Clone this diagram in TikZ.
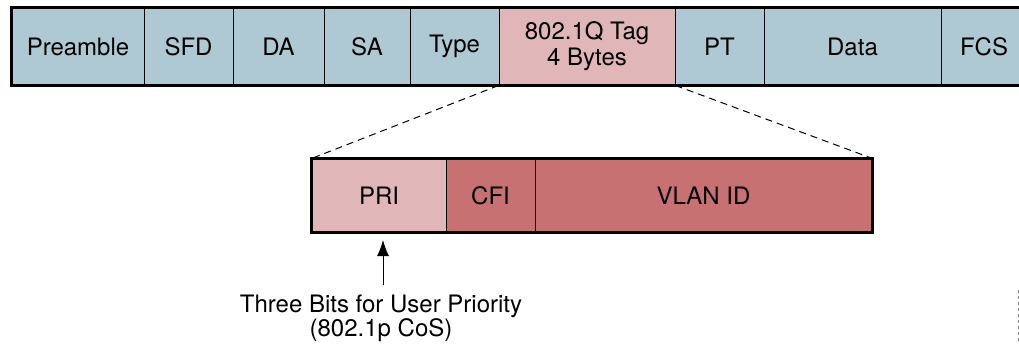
\documentclass[tikz,border=0pt]{standalone}
\usepackage{fontspec}
\setmainfont{TeX Gyre Heros}
\usetikzlibrary{arrows.meta,positioning}

\definecolor{frameblue}{RGB}{174,201,212}
\definecolor{tagpink}{RGB}{224,182,184}
\definecolor{tagrose}{RGB}{200,113,114}

\begin{document}
\begin{tikzpicture}[x=1pt,y=-1pt,
  field/.style={draw,line width=1pt,inner sep=0pt,minimum height=77pt,fill=frameblue,font=\fontsize{24}{26}\selectfont},
  sub/.style={draw,line width=1pt,inner sep=0pt,minimum height=73pt,fill=tagrose,font=\fontsize{24}{26}\selectfont},
  zoomline/.style={line width=1pt,dash pattern=on 7pt off 5pt}]
\useasboundingbox (0,0) rectangle (1019,343);
\clip (0,0) rectangle (1019,343);
% Ethernet frame with the 802.1Q tag
\node[field,minimum width=132pt] at (78,46.5) (pre) {Preamble};
\node[field,minimum width=89pt] at (188.5,46.5) (sfd) {SFD};
\node[field,minimum width=91pt] at (278.5,46.5) (da) {DA};
\node[field,minimum width=86pt] at (367,46.5) (sa) {SA};
\node[field,minimum width=89pt] at (454.5,46.5) (type) {Type};
\node[field,minimum width=176pt,fill=tagpink,align=center] at (587,46.5) (tag) {802.1Q Tag\\4 Bytes};
\node[field,minimum width=89pt] at (719.5,46.5) (pt) {PT};
\node[field,minimum width=177pt] at (852.5,46.5) (data) {Data};
\node[field,minimum width=86pt] at (984,46.5) (fcs) {FCS};
\draw[line width=2.5pt] (pre.north west) rectangle (fcs.south east);
% tag fields
\node[sub,minimum width=134pt,fill=tagpink] at (379,195.5) (pri) {PRI};
\node[sub,minimum width=89pt] at (490.5,195.5) (cfi) {CFI};
\node[sub,minimum width=337pt] at (703.5,195.5) (vid) {VLAN ID};
\draw[line width=2.5pt] (pri.north west) rectangle (vid.south east);
\draw[zoomline] (tag.south west) -- (pri.north west);
\draw[zoomline] (tag.south east) -- (vid.north east);
% priority bits
\node[align=center,font=\fontsize{24}{23}\selectfont] at (381,318) (prio) {Three Bits for User Priority\\(802.1p CoS)};
\coordinate (tail) at (383,285);
\coordinate (tip) at (383,240);
\draw[line width=1pt,-{Latex[length=16pt,width=12pt]}] (tail) -- (tip);
\draw[dashed,gray,line width=0.8pt] (1018,290) -- (1018,343);
\end{tikzpicture}
\end{document}
